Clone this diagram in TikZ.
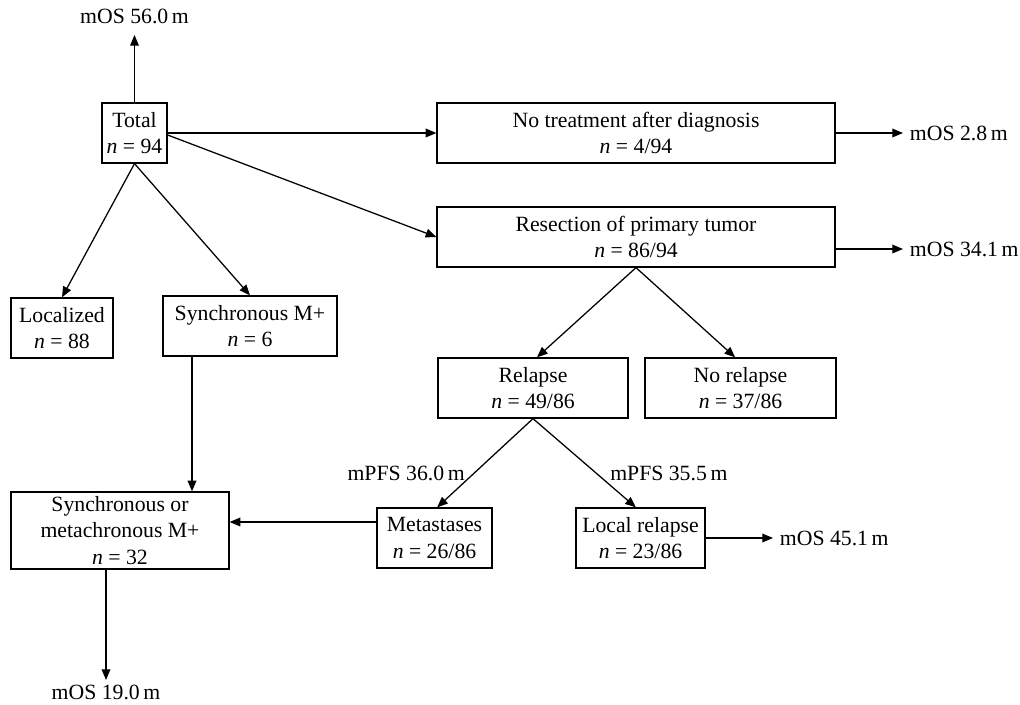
\documentclass[tikz,border=0pt]{standalone}
\usepackage{fontspec}
\setmainfont{Liberation Serif}
\usetikzlibrary{arrows.meta,calc}
\begin{document}
\begin{tikzpicture}[x=0.75pt,y=-0.75pt,
  every node/.style={font=\fontsize{16.3}{20}\selectfont},
  box/.style 2 args={draw, line width=0.95pt, align=center, inner sep=0pt,
    minimum width=#1*0.75pt, minimum height=#2*0.75pt},
  lab/.style={inner xsep=5pt, inner ysep=4pt},
  arr/.style={line width=0.95pt, -{Triangle[length=8pt,width=6.5pt]}}]
\useasboundingbox (0,0) rectangle (1020,705);

% boxes
\node[box={65}{60}]   (total)     at (134.5,133) {Total\\\textit{n} = 94};
\node[box={398}{60}]  (notreat)   at (636,133)   {No treatment after diagnosis\\\textit{n} = 4/94};
\node[box={398}{60}]  (resect)    at (636,237)   {Resection of primary tumor\\\textit{n} = 86/94};
\node[box={102}{60}]  (local)     at (62,328)    {Localized\\\textit{n} = 88};
\node[box={174}{60}]  (syncm)     at (250,326)   {Synchronous M+\\\textit{n} = 6};
\node[box={218}{77}]  (som)       at (120,530.5) {Synchronous or\\metachronous M+\\\textit{n} = 32};
\node[box={190}{60}]  (relapse)   at (533,388)   {Relapse\\\textit{n} = 49/86};
\node[box={191}{60}]  (norelapse) at (740.5,388) {No relapse\\\textit{n} = 37/86};
\node[box={115}{60}]  (meta)      at (434.5,538) {Metastases\\\textit{n} = 26/86};
\node[box={129}{60}]  (localrel)  at (640.5,538) {Local relapse\\\textit{n} = 23/86};

% labels
\node[lab, inner ysep=8pt, anchor=south] (os56) at (134.5,35) {mOS 56.0\,m};
\node[lab, anchor=west] (os28)  at (903,133) {mOS 2.8\,m};
\node[lab, anchor=west] (os341) at (903,249) {mOS 34.1\,m};
\node[lab, anchor=west] (os451) at (773,538) {mOS 45.1\,m};
\node[lab, anchor=north, inner ysep=3.5pt] (os19) at (106,680) {mOS 19.0\,m};
\node[lab, anchor=east, inner xsep=0pt] (pfs36)  at (465,473) {mPFS 36.0\,m};
\node[lab, anchor=west, inner xsep=0pt] (pfs355) at (610,473) {mPFS 35.5\,m};

% connectors
\draw[arr] (total.north) -- (os56.south);
\draw[arr] (total.east) -- (notreat.west);
\draw[arr] ([yshift=-1.5pt]total.east) -- (resect.west);
\draw[arr] (total.south) -- (local.north);
\draw[arr] (total.south) -- (syncm.north);
\draw[arr] (notreat.east) -- (os28.west);
\draw[arr] (resect.east |- os341.west) -- (os341.west);
\draw[arr] (resect.south) -- ([xshift=3pt]relapse.north);
\draw[arr] (resect.south) -- ([xshift=-4pt]norelapse.north);
\draw[arr] (relapse.south) -- ([xshift=2pt]meta.north);
\draw[arr] (relapse.south) -- ([xshift=-3.5pt]localrel.north);
\draw[arr] (localrel.east) -- (os451.west);
\draw[arr] ([xshift=-43.5pt]syncm.south) -- ([xshift=-43.5pt]syncm.south |- som.north);
\draw[arr] ([yshift=12pt]meta.west) -- ([yshift=12pt]meta.west -| som.east);
\draw[arr] (os19.north |- som.south) -- (os19.north);
\end{tikzpicture}
\end{document}
